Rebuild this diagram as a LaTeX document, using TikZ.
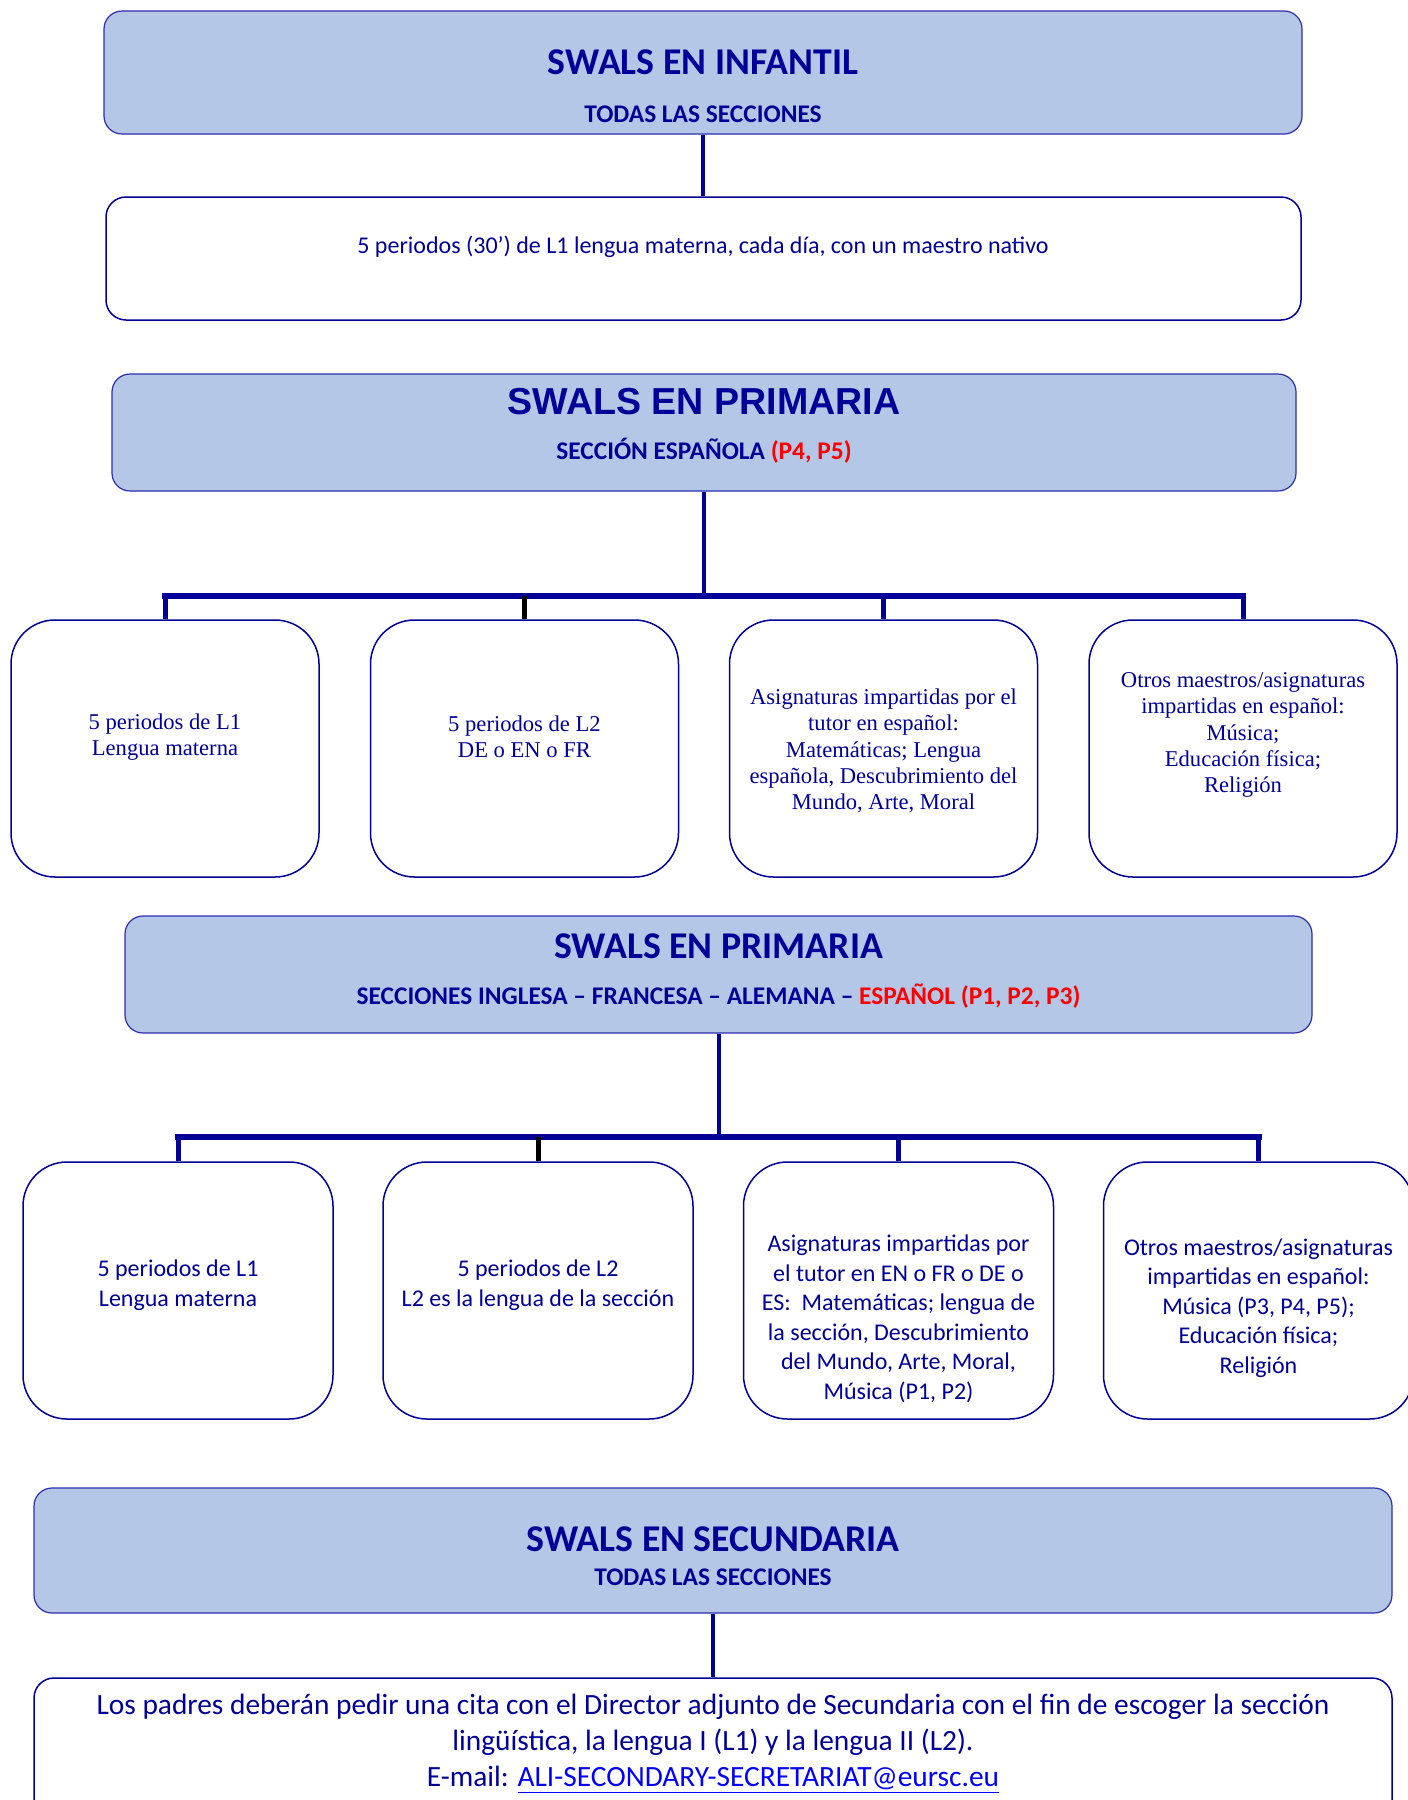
\documentclass[tikz,border=0pt]{standalone}
\usepackage{fontspec}
\setmainfont{Carlito}
\newfontfamily\arialfont{Liberation Sans}
\newfontfamily\timesfont{Liberation Serif}
\definecolor{navy}{RGB}{0,0,153}
\definecolor{boxblue}{RGB}{180,199,231}
\definecolor{edgeblue}{RGB}{45,45,175}
\definecolor{linkblue}{RGB}{0,0,255}
\begin{document}
\begin{tikzpicture}[x=0.5pt,y=-0.5pt,line join=round,
	hdr/.style={draw=edgeblue,fill=boxblue,line width=0.6pt,rounded corners=9pt,inner sep=0pt},
	note/.style={draw=navy,fill=white,line width=0.75pt,rounded corners=10pt,inner sep=0pt},
	cell/.style={draw=navy,fill=white,line width=0.75pt,rounded corners=22pt,inner sep=0pt,minimum height=128.5pt},
	conn/.style={draw=navy,line width=2pt},
	bar/.style={draw=navy,line width=3pt,line cap=rect},
	drop/.style={draw=navy,line width=2.5pt},
	txt/.style={text=navy,align=center,inner sep=0pt},
	ttl/.style={txt,font=\bfseries\fontsize{18.9}{22}\selectfont},
	sub/.style={txt,font=\bfseries\fontsize{12.7}{15}\selectfont},
	serif/.style={txt,font=\timesfont\fontsize{11.3}{13.2}\selectfont},
	sans/.style={txt,font=\fontsize{12}{14.75}\selectfont}]
	\useasboundingbox (0,0) rectangle (1408,1800);
	\clip (0,0) rectangle (1408,1800);
	% infantil
	\node[hdr,minimum width=599pt,minimum height=61.5pt] (inf) at (703,72.5) {};
	\node[ttl] (infT) at (703,62) {SWALS EN INFANTIL};
	\node[sub] (infS) at (703,114) {TODAS LAS SECCIONES};
	\node[note,minimum width=597.5pt,minimum height=61.5pt] (infbox) at (703.5,258.5) {};
	\node[txt,font=\fontsize{12}{14}\selectfont] (infX) at (703,247) {5 periodos (30’) de L1 lengua materna, cada día, con un maestro nativo};
	\draw[conn] (inf.south) -- (inf.south |- infbox.north);
	% primaria, seccion espanola
	\node[hdr,minimum width=592pt,minimum height=58.5pt] (pri1) at (704,432.5) {};
	\node[txt,font=\arialfont\bfseries\fontsize{18.8}{22}\selectfont] (pri1T) at (704,402) {SWALS EN PRIMARIA};
	\node[sub] (pri1S) at (704,451) {SECCIÓN ESPAÑOLA \textcolor{red}{(P4, P5)}};
	\node[cell,minimum width=154pt] (ra) at (165,748.5) {};
	\node[cell,minimum width=154pt] (rb) at (524.5,748.5) {};
	\node[cell,minimum width=154pt] (rc) at (883.5,748.5) {};
	\node[cell,minimum width=154pt] (rd) at (1243,748.5) {};
	\node[serif] (raT) at (165,737) {5 periodos de L1\\Lengua materna};
	\node[serif] (rbT) at (524.5,737) {5 periodos de L2\\DE o EN o FR};
	\node[serif] (rcT) at (883.5,751) {Asignaturas impartidas por el\\tutor en español:\\Matemáticas; Lengua\\española, Descubrimiento del\\Mundo, Arte, Moral};
	\node[serif] (rdT) at (1243,735) {Otros maestros/asignaturas\\impartidas en español:\\Música;\\Educación física;\\Religión};
	\coordinate (j1) at (704,596);
	\draw[conn] (pri1.south) -- (j1);
	\draw[bar] (ra.north |- j1) -- (rd.north |- j1);
	\foreach \n in {ra,rc,rd}
		\draw[drop] (\n.north |- j1) -- (\n.north);
	\draw[drop,draw=black] (rb.north |- j1) -- (rb.north);
	% primaria, todas las secciones
	\node[hdr,minimum width=593.5pt,minimum height=58.5pt] (pri2) at (718.5,974.5) {};
	\node[ttl] (pri2T) at (718.5,946) {SWALS EN PRIMARIA};
	\node[sub] (pri2S) at (718.5,996) {SECCIONES INGLESA – FRANCESA – ALEMANA – \textcolor{red}{ESPAÑOL (P1, P2, P3)}};
	\node[cell,minimum width=155pt] (sa) at (178,1290.5) {};
	\node[cell,minimum width=155pt] (sb) at (538,1290.5) {};
	\node[cell,minimum width=155pt] (sc) at (898.5,1290.5) {};
	\node[cell,minimum width=155pt] (sd) at (1258.5,1290.5) {};
	\node[sans] (saT) at (178,1285) {5 periodos de L1\\Lengua materna};
	\node[sans] (sbT) at (538,1285) {5 periodos de L2\\L2 es la lengua de la sección};
	\node[sans] (scT) at (898.5,1319) {Asignaturas impartidas por\\el tutor en EN o FR o DE o\\ES:~~Matemáticas; lengua de\\la sección, Descubrimiento\\del Mundo, Arte, Moral,\\Música (P1, P2)};
	\node[sans] (sdT) at (1258.5,1308) {Otros maestros/asignaturas\\impartidas en español:\\Música (P3, P4, P5);\\Educación física;\\Religión};
	\coordinate (j2) at (718.5,1137);
	\draw[conn] (pri2.south) -- (j2);
	\draw[bar] (sa.north |- j2) -- (sd.north |- j2);
	\foreach \n in {sa,sc,sd}
		\draw[drop] (\n.north |- j2) -- (\n.north);
	\draw[drop,draw=black] (sb.north |- j2) -- (sb.north);
	% secundaria
	\node[hdr,minimum width=679pt,minimum height=62.5pt] (sec) at (713,1550.5) {};
	\node[ttl] (secT) at (713,1539) {SWALS EN SECUNDARIA};
	\node[sub] (secS) at (713,1577) {TODAS LAS SECCIONES};
	\node[note,minimum width=679pt,minimum height=71pt] (mail) at (713,1749) {};
	\node[txt,font=\fontsize{14.7}{18}\selectfont] (mailT) at (713,1743.5) {Los padres deberán pedir una cita con el Director adjunto de Secundaria con el fin de escoger la sección\\lingüística, la lengua I (L1) y la lengua II (L2).\\E-mail: \textcolor{linkblue}{\underline{ALI-SECONDARY-SECRETARIAT@eursc.eu}}};
	\draw[conn] (sec.south) -- (sec.south |- mail.north);
\end{tikzpicture}
\end{document}
